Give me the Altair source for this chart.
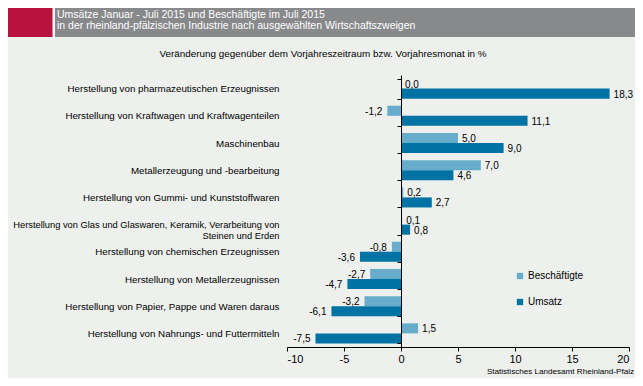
import altair as alt
import pandas as pd

categories = [
    "Herstellung von pharmazeutischen Erzeugnissen",
    "Herstellung von Kraftwagen und Kraftwagenteilen",
    "Maschinenbau",
    "Metallerzeugung und -bearbeitung",
    "Herstellung von Gummi- und Kunststoffwaren",
    "Herstellung von Glas und Glaswaren, Keramik, Verarbeitung von|Steinen und Erden",
    "Herstellung von chemischen Erzeugnissen",
    "Herstellung von Metallerzeugnissen",
    "Herstellung von Papier, Pappe und Waren daraus",
    "Herstellung von Nahrungs- und Futtermitteln",
]
beschaeftigte = [0.0, -1.2, 5.0, 7.0, 0.2, 0.1, -0.8, -2.7, -3.2, 1.5]
umsatz = [18.3, 11.1, 9.0, 4.6, 2.7, 0.8, -3.6, -4.7, -6.1, -7.5]
series = ["Beschäftigte", "Umsatz"]
x_ticks = [-10, -5, 0, 5, 10, 15, 20]

title_lines = [
    "Umsätze Januar - Juli 2015 und Beschäftigte im Juli 2015",
    "in der rheinland-pfälzischen Industrie nach ausgewählten Wirtschaftszweigen",
]
subtitle = "Veränderung gegenüber dem Vorjahreszeitraum bzw. Vorjahresmonat in %"
source = "Statistisches Landesamt Rheinland-Pfalz"

rows = []
for c, b, u in zip(categories, beschaeftigte, umsatz):
    for s, v in zip(series, (b, u)):
        rows.append({"cat": c, "series": s, "value": v,
                     "label": f"{v:.1f}".replace(".", ",")})
df = pd.DataFrame(rows)

FONT = "Liberation Sans"
LIGHT = "#67ACCA"
DARK = "#0072A4"

y_axis = alt.Axis(
    title=None, offset=-114, domainColor="black", tickColor="black",
    tickSize=4, tickBand="extent", labelPadding=118, labelLimit=320,
    labelFont=FONT,
    labelFontSize={"condition": {"test": "indexof(datum.label, '|') >= 0", "value": 9.3},
                   "value": 9.75},
    labelColor="black",
    labelExpr="split(datum.label, '|')", labelLineHeight=11, zindex=1,
)
y_enc = alt.Y("cat:N", sort=categories,
              scale=alt.Scale(paddingInner=0.26, paddingOuter=0.13), axis=y_axis)
yoff = alt.YOffset("series:N", sort=series, scale=alt.Scale(paddingInner=0, paddingOuter=0))
x_enc = alt.X("value:Q", scale=alt.Scale(domain=[-10, 20], nice=False),
              axis=alt.Axis(title=None, values=x_ticks, domainColor="black",
                            tickColor="black", tickSize=4, grid=False,
                            labelFont=FONT, labelFontSize=11, labelColor="black",
                            labelPadding=2, labelExpr="'' + datum.value"))

base = alt.Chart(df)
bars = base.mark_bar().encode(
    x=x_enc, y=y_enc, yOffset=yoff,
    color=alt.Color("series:N", sort=series,
                    scale=alt.Scale(domain=series, range=[LIGHT, DARK]),
                    legend=alt.Legend(title=None, orient="none", legendX=228, legendY=196,
                                      symbolType="square", symbolSize=40,
                                      symbolStrokeWidth=0, rowPadding=16,
                                      labelFont=FONT, labelFontSize=10,
                                      labelColor="black", labelOffset=3)),
)
pos_text = base.transform_filter("datum.value >= 0").mark_text(
    align="left", baseline="middle", dx=4, dy=1, font=FONT, fontSize=10, color="black"
).encode(x=x_enc, y=y_enc, yOffset=yoff, text="label:N")
neg_text = base.transform_filter("datum.value < 0").mark_text(
    align="right", baseline="middle", dx=-5, dy=1, font=FONT, fontSize=10, color="black"
).encode(x=x_enc, y=y_enc, yOffset=yoff, text="label:N")

one = pd.DataFrame({"k": [0]})
hdr_white = alt.Chart(one).mark_rect(color="#F4F5F4").encode(
    x=alt.value(-279), x2=alt.value(348), y=alt.value(-67), y2=alt.value(-38))
hdr_red = alt.Chart(one).mark_rect(color="#B8133F").encode(
    x=alt.value(-279), x2=alt.value(-234.5), y=alt.value(-67), y2=alt.value(-38))
hdr_grey = alt.Chart(one).mark_rect(color="#88898B").encode(
    x=alt.value(-232), x2=alt.value(348), y=alt.value(-67), y2=alt.value(-38))
t1 = alt.Chart(one).mark_text(text=title_lines[0], align="left", baseline="middle",
                              font=FONT, fontSize=10.5, color="white").encode(
    x=alt.value(-230), y=alt.value(-60.5))
t2 = alt.Chart(one).mark_text(text=title_lines[1], align="left", baseline="middle",
                              font=FONT, fontSize=10.5, color="white").encode(
    x=alt.value(-230), y=alt.value(-49.5))
sub = alt.Chart(one).mark_text(text=subtitle, align="center", baseline="middle",
                               font=FONT, fontSize=9.9, color="black").encode(
    x=alt.value(36), y=alt.value(-21.5))
src = alt.Chart(one).mark_text(text=source, align="right", baseline="middle",
                               font=FONT, fontSize=8.1, color="black").encode(
    x=alt.value(347), y=alt.value(297))

chart = alt.layer(
    hdr_white, hdr_red, hdr_grey, t1, t2, sub, src, bars, pos_text, neg_text
).properties(
    width=342, height=272,
    autosize=alt.AutoSizeParams(type="none"),
    padding={"left": 279, "top": 67, "right": 6, "bottom": 31},
    background="#EEF0EE",
).configure_view(stroke=None)

chart.save("out.html", embed_options={"renderer": "svg", "actions": False})
